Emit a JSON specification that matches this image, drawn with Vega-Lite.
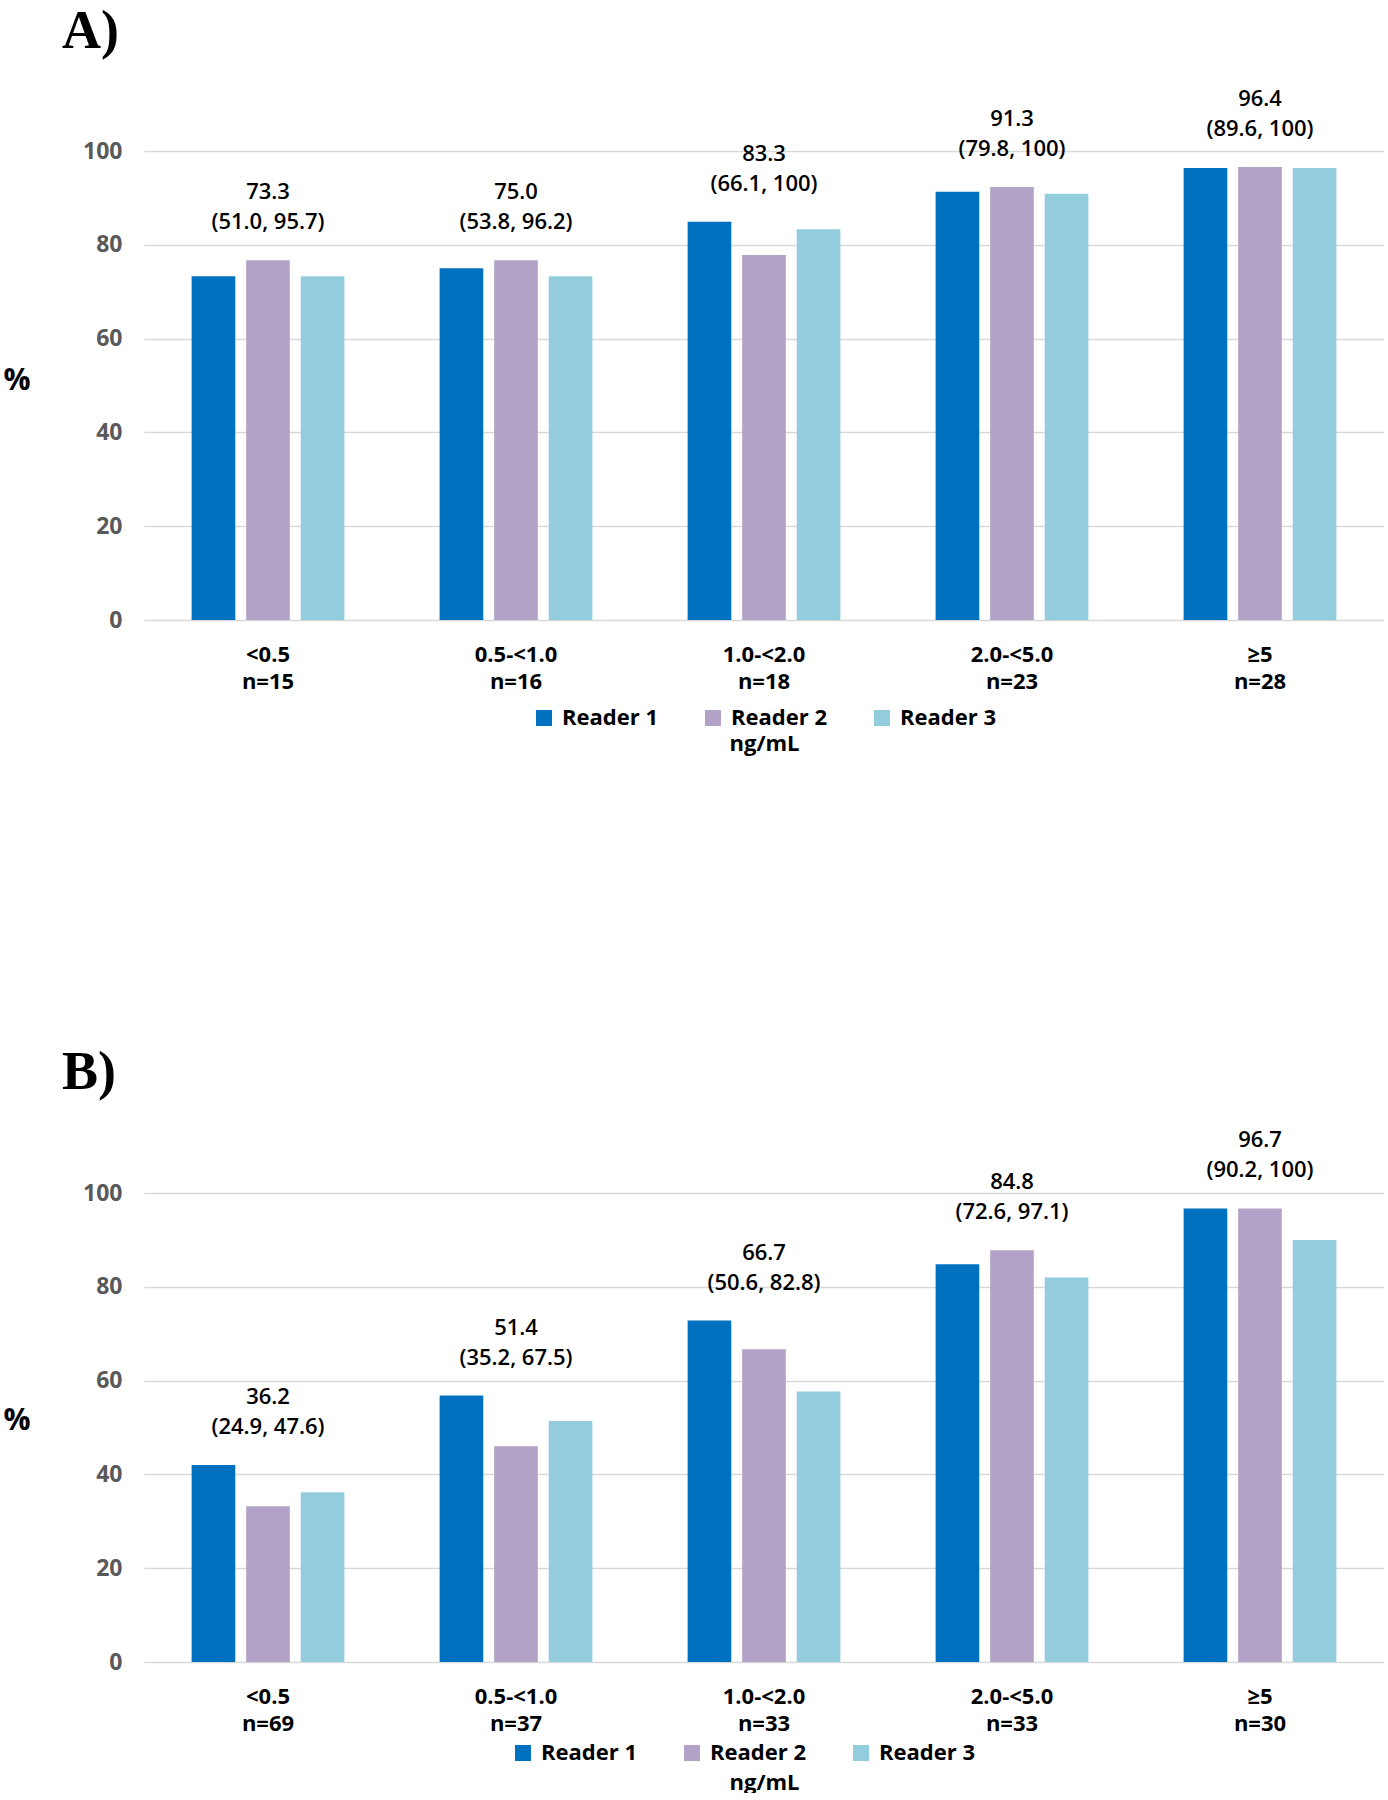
{
  "$schema": "https://vega.github.io/schema/vega-lite/v6.json",
  "padding": {"left": 3, "top": 4, "right": 0, "bottom": 0},
  "background": "white",
  "spacing": 292,
  "resolve": {"legend": {"color": "independent"}},
  "config": {
    "view": {"stroke": null},
    "axis": {"domain": false, "ticks": false, "gridColor": "#d9d9d9", "gridWidth": 1.5},
    "font": "Open Sans"
  },
  "datasets": {
    "A": [
      {"group": "<0.5\nn=15", "reader": "Reader 1", "pct": 73.3},
      {"group": "<0.5\nn=15", "reader": "Reader 2", "pct": 76.7},
      {"group": "<0.5\nn=15", "reader": "Reader 3", "pct": 73.3},
      {"group": "0.5-<1.0\nn=16", "reader": "Reader 1", "pct": 75.0},
      {"group": "0.5-<1.0\nn=16", "reader": "Reader 2", "pct": 76.7},
      {"group": "0.5-<1.0\nn=16", "reader": "Reader 3", "pct": 73.3},
      {"group": "1.0-<2.0\nn=18", "reader": "Reader 1", "pct": 84.9},
      {"group": "1.0-<2.0\nn=18", "reader": "Reader 2", "pct": 77.8},
      {"group": "1.0-<2.0\nn=18", "reader": "Reader 3", "pct": 83.3},
      {"group": "2.0-<5.0\nn=23", "reader": "Reader 1", "pct": 91.3},
      {"group": "2.0-<5.0\nn=23", "reader": "Reader 2", "pct": 92.3},
      {"group": "2.0-<5.0\nn=23", "reader": "Reader 3", "pct": 90.9},
      {"group": "≥5\nn=28", "reader": "Reader 1", "pct": 96.4},
      {"group": "≥5\nn=28", "reader": "Reader 2", "pct": 96.6},
      {"group": "≥5\nn=28", "reader": "Reader 3", "pct": 96.4}
    ],
    "annA": [
      {"group": "<0.5\nn=15", "est": "73.3", "ci": "(51.0, 95.7)"},
      {"group": "0.5-<1.0\nn=16", "est": "75.0", "ci": "(53.8, 96.2)"},
      {"group": "1.0-<2.0\nn=18", "est": "83.3", "ci": "(66.1, 100)"},
      {"group": "2.0-<5.0\nn=23", "est": "91.3", "ci": "(79.8, 100)"},
      {"group": "≥5\nn=28", "est": "96.4", "ci": "(89.6, 100)"}
    ],
    "B": [
      {"group": "<0.5\nn=69", "reader": "Reader 1", "pct": 42.0},
      {"group": "<0.5\nn=69", "reader": "Reader 2", "pct": 33.2},
      {"group": "<0.5\nn=69", "reader": "Reader 3", "pct": 36.2},
      {"group": "0.5-<1.0\nn=37", "reader": "Reader 1", "pct": 56.8},
      {"group": "0.5-<1.0\nn=37", "reader": "Reader 2", "pct": 46.0},
      {"group": "0.5-<1.0\nn=37", "reader": "Reader 3", "pct": 51.4},
      {"group": "1.0-<2.0\nn=33", "reader": "Reader 1", "pct": 72.8},
      {"group": "1.0-<2.0\nn=33", "reader": "Reader 2", "pct": 66.7},
      {"group": "1.0-<2.0\nn=33", "reader": "Reader 3", "pct": 57.7},
      {"group": "2.0-<5.0\nn=33", "reader": "Reader 1", "pct": 84.8},
      {"group": "2.0-<5.0\nn=33", "reader": "Reader 2", "pct": 87.8},
      {"group": "2.0-<5.0\nn=33", "reader": "Reader 3", "pct": 82.0},
      {"group": "≥5\nn=30", "reader": "Reader 1", "pct": 96.7},
      {"group": "≥5\nn=30", "reader": "Reader 2", "pct": 96.7},
      {"group": "≥5\nn=30", "reader": "Reader 3", "pct": 90.0}
    ],
    "annB": [
      {"group": "<0.5\nn=69", "est": "36.2", "ci": "(24.9, 47.6)"},
      {"group": "0.5-<1.0\nn=37", "est": "51.4", "ci": "(35.2, 67.5)"},
      {"group": "1.0-<2.0\nn=33", "est": "66.7", "ci": "(50.6, 82.8)"},
      {"group": "2.0-<5.0\nn=33", "est": "84.8", "ci": "(72.6, 97.1)"},
      {"group": "≥5\nn=30", "est": "96.7", "ci": "(90.2, 100)"}
    ]
  },
  "vconcat": [
    {
      "width": 1240,
      "height": 469,
      "title": {"text": "A)", "font": "Liberation Serif", "fontSize": 54, "fontWeight": "bold", "color": "black", "anchor": "start", "frame": "group", "dx": -82, "offset": 29},
      "data": {"name": "A"},
      "encoding": {
        "x": {"field": "group", "type": "nominal", "sort": null,
          "scale": {"paddingInner": 0.384, "paddingOuter": 0.192},
          "axis": {"labelExpr": "split(datum.value, '\\n')", "labelAngle": 0, "labelFont": "Open Sans", "labelFontSize": 22, "labelFontWeight": "bold", "labelColor": "black", "labelPadding": 24, "labelLineHeight": 27, "labelBaseline": "top",
            "title": "ng/mL", "titleFont": "Open Sans", "titleFontSize": 22, "titleFontWeight": "bold", "titleColor": "black", "titleX": 620, "titleY": 123, "titleBaseline": "middle", "titleAlign": "center"}},
        "y": {"type": "quantitative", "scale": {"domain": [0, 100], "nice": false},
          "axis": {"values": [0, 20, 40, 60, 80, 100], "labelFont": "Open Sans", "labelFontSize": 23, "labelFontWeight": "bold", "labelColor": "#595959", "labelPadding": 22,
            "title": "%", "titleAngle": 0, "titleX": -141, "titleY": 229, "titleAlign": "left", "titleBaseline": "middle", "titleFont": "Open Sans", "titleFontSize": 30, "titleFontWeight": "bold", "titleColor": "black"}}
      },
      "layer": [
        {
          "mark": {"type": "bar"},
          "encoding": {
            "y": {"field": "pct", "type": "quantitative"},
            "xOffset": {"field": "reader", "type": "nominal", "scale": {"paddingInner": 0.2, "paddingOuter": 0}},
            "color": {"field": "reader", "type": "nominal",
              "scale": {"domain": ["Reader 1", "Reader 2", "Reader 3"], "range": ["#0070c0", "#b2a2c7", "#93cddd"]},
              "legend": {"orient": "none", "legendX": 389, "legendY": 556, "direction": "horizontal", "title": null, "symbolType": "square", "symbolSize": 256, "symbolStrokeWidth": 0, "labelFont": "Open Sans", "labelFontSize": 22, "labelFontWeight": "bold", "labelColor": "black", "labelOffset": 7, "columnPadding": 43}}
          }
        },
        {
          "transform": [
            {"aggregate": [{"op": "max", "field": "pct", "as": "top"}], "groupby": ["group"]},
            {"lookup": "group", "from": {"data": {"name": "annA"}, "key": "group", "fields": ["est", "ci"]}}
          ],
          "mark": {"type": "text", "font": "Open Sans", "fontSize": 22, "fontWeight": 600, "color": "black", "baseline": "middle", "dy": -68},
          "encoding": {"y": {"field": "top", "type": "quantitative"}, "text": {"field": "est"}}
        },
        {
          "transform": [
            {"aggregate": [{"op": "max", "field": "pct", "as": "top"}], "groupby": ["group"]},
            {"lookup": "group", "from": {"data": {"name": "annA"}, "key": "group", "fields": ["est", "ci"]}}
          ],
          "mark": {"type": "text", "font": "Open Sans", "fontSize": 22, "fontWeight": 600, "color": "black", "baseline": "middle", "dy": -38},
          "encoding": {"y": {"field": "top", "type": "quantitative"}, "text": {"field": "ci"}}
        }
      ]
    },
    {
      "width": 1240,
      "height": 469,
      "title": {"text": "B)", "font": "Liberation Serif", "fontSize": 54, "fontWeight": "bold", "color": "black", "anchor": "start", "frame": "group", "dx": -82, "offset": 29},
      "data": {"name": "B"},
      "encoding": {
        "x": {"field": "group", "type": "nominal", "sort": null,
          "scale": {"paddingInner": 0.384, "paddingOuter": 0.192},
          "axis": {"labelExpr": "split(datum.value, '\\n')", "labelAngle": 0, "labelFont": "Open Sans", "labelFontSize": 22, "labelFontWeight": "bold", "labelColor": "black", "labelPadding": 24, "labelLineHeight": 27, "labelBaseline": "top",
            "title": "ng/mL", "titleFont": "Open Sans", "titleFontSize": 22, "titleFontWeight": "bold", "titleColor": "black", "titleX": 620, "titleY": 120, "titleBaseline": "middle", "titleAlign": "center"}},
        "y": {"type": "quantitative", "scale": {"domain": [0, 100], "nice": false},
          "axis": {"values": [0, 20, 40, 60, 80, 100], "labelFont": "Open Sans", "labelFontSize": 23, "labelFontWeight": "bold", "labelColor": "#595959", "labelPadding": 22,
            "title": "%", "titleAngle": 0, "titleX": -141, "titleY": 227, "titleAlign": "left", "titleBaseline": "middle", "titleFont": "Open Sans", "titleFontSize": 30, "titleFontWeight": "bold", "titleColor": "black"}}
      },
      "layer": [
        {
          "mark": {"type": "bar"},
          "encoding": {
            "y": {"field": "pct", "type": "quantitative"},
            "xOffset": {"field": "reader", "type": "nominal", "scale": {"paddingInner": 0.2, "paddingOuter": 0}},
            "color": {"field": "reader", "type": "nominal",
              "scale": {"domain": ["Reader 1", "Reader 2", "Reader 3"], "range": ["#0070c0", "#b2a2c7", "#93cddd"]},
              "legend": {"orient": "none", "legendX": 368, "legendY": 549, "direction": "horizontal", "title": null, "symbolType": "square", "symbolSize": 256, "symbolStrokeWidth": 0, "labelFont": "Open Sans", "labelFontSize": 22, "labelFontWeight": "bold", "labelColor": "black", "labelOffset": 7, "columnPadding": 43}}
          }
        },
        {
          "transform": [
            {"aggregate": [{"op": "max", "field": "pct", "as": "top"}], "groupby": ["group"]},
            {"lookup": "group", "from": {"data": {"name": "annB"}, "key": "group", "fields": ["est", "ci"]}}
          ],
          "mark": {"type": "text", "font": "Open Sans", "fontSize": 22, "fontWeight": 600, "color": "black", "baseline": "middle", "dy": -68},
          "encoding": {"y": {"field": "top", "type": "quantitative"}, "text": {"field": "est"}}
        },
        {
          "transform": [
            {"aggregate": [{"op": "max", "field": "pct", "as": "top"}], "groupby": ["group"]},
            {"lookup": "group", "from": {"data": {"name": "annB"}, "key": "group", "fields": ["est", "ci"]}}
          ],
          "mark": {"type": "text", "font": "Open Sans", "fontSize": 22, "fontWeight": 600, "color": "black", "baseline": "middle", "dy": -38},
          "encoding": {"y": {"field": "top", "type": "quantitative"}, "text": {"field": "ci"}}
        }
      ]
    }
  ]
}
